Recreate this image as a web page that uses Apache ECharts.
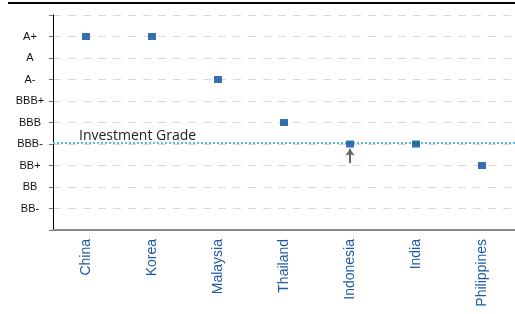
<!DOCTYPE html>
<html><head><meta charset="utf-8">
<script src="https://cdn.jsdelivr.net/npm/echarts@6/dist/echarts.min.js"></script>
<style>html,body{margin:0;padding:0;background:#fff}#c{width:515px;height:314px}</style>
</head><body><div id="c"></div>
<script>
const countries = ['China','Korea','Malaysia','Thailand','Indonesia','India','Philippines'];
const ratingTicks = ['', 'BB-', 'BB', 'BB+', 'BBB-', 'BBB', 'BBB+', 'A-', 'A', 'A+', ''];
const ratings = [9, 9, 7, 5, 4, 4, 3];
const investmentGrade = 4.08;
const indonesiaArrow = [3.12, 3.78];

const chart = echarts.init(document.getElementById('c'));
chart.setOption({
  animation: false,
  grid: {left: 53, top: 15, width: 468, bottom: 84},
  graphic: [{type: 'rect', shape: {x: 8, y: 2, width: 507, height: 2}, style: {fill: '#000'}}],
  xAxis: {
    type: 'category', data: countries,
    axisLine: {lineStyle: {color: '#888', width: 2}},
    axisTick: {length: 4, lineStyle: {color: '#000'}},
    axisLabel: {rotate: 90, margin: 9, color: '#1f5aa6', fontFamily: 'Liberation Sans', fontSize: 14},
    splitLine: {show: false}
  },
  yAxis: {
    type: 'value', min: 0, max: 10, interval: 1,
    axisLine: {show: true, lineStyle: {color: '#000'}},
    axisTick: {show: true, length: 4, lineStyle: {color: '#777'}},
    axisLabel: {formatter: v => ratingTicks[v] || '', align: 'center', margin: 23, color: '#111', fontFamily: 'Liberation Sans', fontSize: 11},
    splitLine: {lineStyle: {type: [8, 7], color: '#d9d9d9'}}
  },
  series: [{
    type: 'scatter', symbol: 'rect', symbolSize: [8, 7],
    itemStyle: {color: '#034c9f'},
    data: ratings,
    z: 5,
    markLine: {
      silent: true, symbol: 'none', animation: false,
      data: [
        [{coord: [0, investmentGrade], x: 53, lineStyle: {color: '#5bc0e8', type: [2, 2], width: 2},
          label: {show: true, formatter: 'Investment Grade', position: 'insideStartTop', distance: [26, -1], color: '#222', fontFamily: 'Open Sans', fontSize: 14}},
         {coord: [6, investmentGrade], x: 515}],
        [{coord: ['Indonesia', indonesiaArrow[0]], symbol: 'none', lineStyle: {color: '#666', type: 'solid', width: 2}, label: {show: false}},
         {coord: ['Indonesia', indonesiaArrow[1]], symbol: 'arrow', symbolSize: 7}]
      ]
    }
  }]
});
</script></body></html>
